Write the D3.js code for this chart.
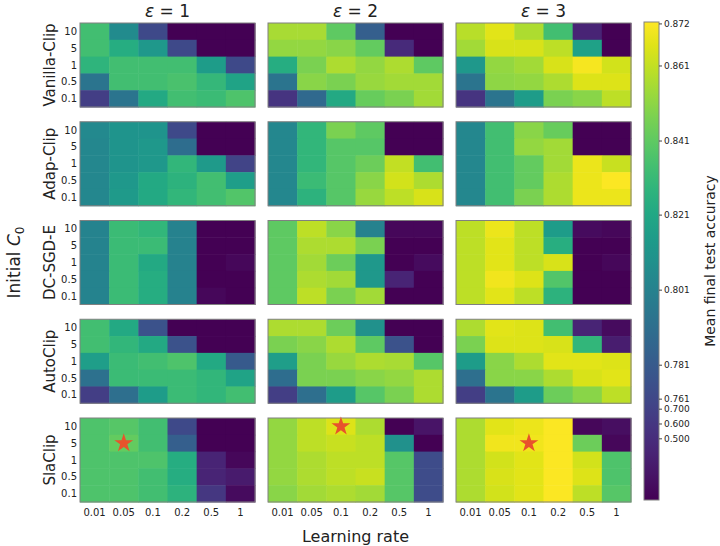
<!DOCTYPE html>
<html>
<head>
<meta charset="utf-8">
<script src="https://cdn.jsdelivr.net/npm/d3@7"></script>
<style>
  body { margin: 0; background: #fff; }
  text { font-family: "DejaVu Sans", sans-serif; fill: #222; }
</style>
</head>
<body>
<div id="chart"></div>
<script>
(function() {
const methods = ["Vanilla-Clip", "Adap-Clip", "DC-SGD-E", "AutoClip", "SlaClip"];
const epsilons = [1, 2, 3];
const learningRates = ["0.01", "0.05", "0.1", "0.2", "0.5", "1"];
const initialC0 = ["10", "5", "1", "0.5", "0.1"];

// mean final test accuracy, rows = C0 (10 .. 0.1), cols = learning rate; one grid per epsilon
const vanillaClip = [
  [[0.834, 0.806, 0.764, 0.1, 0.1, 0.1],
   [0.834, 0.824, 0.813, 0.764, 0.1, 0.1],
   [0.828, 0.834, 0.834, 0.834, 0.815, 0.764],
   [0.794, 0.834, 0.834, 0.836, 0.830, 0.819],
   [0.668, 0.794, 0.822, 0.834, 0.832, 0.837]],
  [[0.856, 0.856, 0.841, 0.783, 0.1, 0.1],
   [0.852, 0.852, 0.850, 0.842, 0.475, 0.1],
   [0.824, 0.847, 0.857, 0.852, 0.857, 0.841],
   [0.794, 0.850, 0.847, 0.853, 0.855, 0.855],
   [0.571, 0.788, 0.822, 0.843, 0.847, 0.855]],
  [[0.859, 0.867, 0.857, 0.834, 0.41, 0.1],
   [0.855, 0.865, 0.865, 0.860, 0.818, 0.1],
   [0.813, 0.852, 0.855, 0.865, 0.871, 0.864],
   [0.794, 0.851, 0.852, 0.857, 0.866, 0.866],
   [0.571, 0.794, 0.815, 0.847, 0.850, 0.860]]
];
const adapClip = [
  [[0.805, 0.811, 0.811, 0.764, 0.1, 0.1],
   [0.804, 0.811, 0.813, 0.790, 0.1, 0.1],
   [0.804, 0.811, 0.813, 0.829, 0.814, 0.729],
   [0.804, 0.813, 0.822, 0.827, 0.834, 0.816],
   [0.804, 0.814, 0.822, 0.829, 0.834, 0.838]],
  [[0.804, 0.829, 0.847, 0.841, 0.1, 0.1],
   [0.804, 0.829, 0.839, 0.839, 0.1, 0.1],
   [0.804, 0.829, 0.839, 0.844, 0.861, 0.834],
   [0.804, 0.832, 0.839, 0.850, 0.864, 0.857],
   [0.804, 0.827, 0.839, 0.853, 0.860, 0.865]],
  [[0.804, 0.834, 0.850, 0.843, 0.1, 0.1],
   [0.804, 0.834, 0.852, 0.855, 0.1, 0.1],
   [0.804, 0.834, 0.842, 0.855, 0.869, 0.862],
   [0.804, 0.834, 0.842, 0.857, 0.869, 0.872],
   [0.804, 0.834, 0.847, 0.857, 0.869, 0.869]]
];
const dcSgdE = [
  [[0.802, 0.832, 0.829, 0.801, 0.1, 0.1],
   [0.802, 0.832, 0.832, 0.801, 0.1, 0.1],
   [0.802, 0.832, 0.822, 0.801, 0.1, 0.16],
   [0.802, 0.832, 0.824, 0.801, 0.1, 0.1],
   [0.802, 0.832, 0.824, 0.801, 0.16, 0.1]],
  [[0.841, 0.860, 0.850, 0.801, 0.16, 0.16],
   [0.841, 0.857, 0.857, 0.847, 0.1, 0.1],
   [0.841, 0.855, 0.844, 0.813, 0.1, 0.19],
   [0.841, 0.857, 0.855, 0.813, 0.41, 0.1],
   [0.841, 0.860, 0.847, 0.855, 0.1, 0.1]],
  [[0.860, 0.869, 0.860, 0.815, 0.19, 0.16],
   [0.860, 0.867, 0.860, 0.825, 0.1, 0.1],
   [0.860, 0.867, 0.860, 0.865, 0.1, 0.16],
   [0.860, 0.870, 0.866, 0.838, 0.1, 0.1],
   [0.860, 0.867, 0.860, 0.827, 0.1, 0.1]]
];
const autoClip = [
  [[0.834, 0.822, 0.772, 0.1, 0.1, 0.1],
   [0.834, 0.829, 0.822, 0.772, 0.1, 0.1],
   [0.816, 0.832, 0.834, 0.837, 0.822, 0.780],
   [0.792, 0.832, 0.832, 0.832, 0.829, 0.819],
   [0.668, 0.791, 0.815, 0.832, 0.829, 0.834]],
  [[0.857, 0.857, 0.844, 0.809, 0.1, 0.1],
   [0.847, 0.850, 0.857, 0.841, 0.772, 0.1],
   [0.816, 0.847, 0.853, 0.857, 0.856, 0.839],
   [0.790, 0.847, 0.847, 0.850, 0.852, 0.857],
   [0.668, 0.791, 0.815, 0.839, 0.847, 0.857]],
  [[0.857, 0.867, 0.866, 0.834, 0.41, 0.19],
   [0.847, 0.866, 0.866, 0.865, 0.829, 0.35],
   [0.815, 0.850, 0.857, 0.867, 0.867, 0.866],
   [0.791, 0.850, 0.850, 0.857, 0.865, 0.867],
   [0.668, 0.794, 0.815, 0.844, 0.850, 0.860]]
];
const slaClip = [
  [[0.837, 0.839, 0.834, 0.764, 0.1, 0.1],
   [0.837, 0.842, 0.834, 0.783, 0.1, 0.1],
   [0.837, 0.837, 0.837, 0.824, 0.41, 0.16],
   [0.837, 0.837, 0.834, 0.824, 0.41, 0.32],
   [0.837, 0.837, 0.834, 0.827, 0.60, 0.19]],
  [[0.852, 0.860, 0.866, 0.857, 0.1, 0.26],
   [0.852, 0.860, 0.862, 0.860, 0.809, 0.1],
   [0.852, 0.857, 0.860, 0.860, 0.839, 0.766],
   [0.852, 0.857, 0.860, 0.862, 0.839, 0.766],
   [0.850, 0.855, 0.857, 0.855, 0.839, 0.766]],
  [[0.857, 0.867, 0.869, 0.872, 0.16, 0.22],
   [0.857, 0.870, 0.870, 0.872, 0.844, 0.16],
   [0.857, 0.864, 0.867, 0.872, 0.864, 0.837],
   [0.857, 0.865, 0.867, 0.872, 0.866, 0.837],
   [0.857, 0.864, 0.867, 0.872, 0.860, 0.839]]
];
const grids = [vanillaClip, adapClip, dcSgdE, autoClip, slaClip];

// best setting per epsilon for SlaClip: [learning rate, C0]
const bestSla = [["0.05", "5"], ["0.1", "10"], ["0.1", "5"]];

// colorbar ticks and the (non-uniform) norm break points
const cbTicks = [0.872, 0.861, 0.841, 0.821, 0.801, 0.781, 0.761, 0.700, 0.600, 0.500];
const normDomain = [0.1, 0.5, 0.6, 0.7, 0.761, 0.781, 0.801, 0.821, 0.841, 0.861, 0.8725];
const normRange = [0, 0.128, 0.159, 0.190, 0.211, 0.282, 0.439, 0.596, 0.751, 0.908, 1];

const W = 720, H = 546;
const svg = d3.select('#chart').append('svg')
  .attr('width', W).attr('height', H);

const norm = d3.scaleLinear().domain(normDomain).range(normRange).clamp(true);
const color = v => d3.interpolateViridis(norm(v));

const panelW = 175, panelH = 84;
const colX = d3.scalePoint().domain(epsilons).range([80, 456]);
const rowY = d3.scalePoint().domain(methods).range([23, 418]);
const x = d3.scaleBand().domain(learningRates).range([0, panelW]);
const y = d3.scaleBand().domain(initialC0).range([0, panelH]);

const star = d3.symbol().type(d3.symbolStar).size(110);

methods.forEach((m, mi) => {
  epsilons.forEach((e, ei) => {
    const g = svg.append('g')
      .attr('transform', `translate(${colX(e)},${rowY(m)})`);
    const cells = [];
    grids[mi][ei].forEach((row, ri) => row.forEach((v, ci) => {
      cells.push({ lr: learningRates[ci], c0: initialC0[ri], v });
    }));
    g.selectAll('rect.cell').data(cells).enter().append('rect')
      .attr('class', 'cell')
      .attr('x', d => x(d.lr))
      .attr('y', d => y(d.c0))
      .attr('width', x.bandwidth() + 0.5)
      .attr('height', y.bandwidth() + 0.5)
      .attr('fill', d => color(d.v));
    g.append('rect')
      .attr('width', panelW).attr('height', panelH)
      .attr('fill', 'none').attr('stroke', '#808080').attr('stroke-width', 1);

    if (ei === 0) {
      g.selectAll('text.ytick').data(initialC0).enter().append('text')
        .attr('class', 'ytick')
        .attr('x', -3)
        .attr('y', d => y(d) + y.bandwidth() / 2)
        .attr('dy', '0.35em')
        .attr('text-anchor', 'end')
        .attr('font-size', 10)
        .text(d => d);
      g.append('text')
        .attr('transform', `translate(-30,${panelH / 2}) rotate(-90)`)
        .attr('text-anchor', 'middle')
        .attr('dy', '0.35em')
        .attr('font-size', 15)
        .text(m);
    }
    if (mi === 0) {
      const t = g.append('text')
        .attr('x', panelW / 2).attr('y', -6)
        .attr('text-anchor', 'middle')
        .attr('font-size', 17);
      t.append('tspan').attr('font-style', 'italic').text('ε');
      t.append('tspan').text(` = ${e}`);
    }
    if (mi === methods.length - 1) {
      g.selectAll('text.xtick').data(learningRates).enter().append('text')
        .attr('class', 'xtick')
        .attr('x', d => x(d) + x.bandwidth() / 2)
        .attr('y', panelH + 14)
        .attr('text-anchor', 'middle')
        .attr('font-size', 10)
        .text(d => d);
      const b = bestSla[ei];
      g.append('path')
        .attr('d', star)
        .attr('transform', `translate(${x(b[0]) + x.bandwidth() / 2},${y(b[1]) + y.bandwidth() / 2})`)
        .attr('fill', '#e8522c');
    }
  });
});

// shared axis labels
const ylab = svg.append('text')
  .attr('transform', `translate(20,${(23 + 502) / 2}) rotate(-90)`)
  .attr('text-anchor', 'middle')
  .attr('font-size', 17);
ylab.append('tspan').text('Initial ');
ylab.append('tspan').attr('font-style', 'italic').text('C');
ylab.append('tspan').attr('font-size', 12).attr('dy', 4).text('0');

svg.append('text')
  .attr('x', (80 + 631) / 2).attr('y', 542)
  .attr('text-anchor', 'middle')
  .attr('font-size', 16)
  .text('Learning rate');

// colorbar
const cbX = 644, cbW = 15, cbTop = 22, cbBot = 500;
const cbY = d3.scaleLinear().domain([0, 1]).range([cbBot, cbTop]);
const defs = svg.append('defs');
const grad = defs.append('linearGradient').attr('id', 'cbgrad')
  .attr('x1', 0).attr('y1', 1).attr('x2', 0).attr('y2', 0);
d3.range(0, 1.0001, 0.05).forEach(s => {
  grad.append('stop').attr('offset', s).attr('stop-color', d3.interpolateViridis(s));
});
svg.append('rect')
  .attr('x', cbX).attr('y', cbTop)
  .attr('width', cbW).attr('height', cbBot - cbTop)
  .attr('fill', 'url(#cbgrad)')
  .attr('stroke', '#808080').attr('stroke-width', 1);

const cbT = svg.selectAll('g.cbtick').data(cbTicks).enter().append('g')
  .attr('class', 'cbtick')
  .attr('transform', d => `translate(${cbX + cbW},${cbY(norm(d))})`);
cbT.append('line').attr('x2', 3).attr('stroke', '#444');
cbT.append('text')
  .attr('x', 5).attr('dy', '0.35em')
  .attr('font-size', 9)
  .text(d => d.toFixed(3));

svg.append('text')
  .attr('transform', `translate(710,${(cbTop + cbBot) / 2}) rotate(-90)`)
  .attr('text-anchor', 'middle')
  .attr('dy', '0.35em')
  .attr('font-size', 14)
  .text('Mean final test accuracy');
})();
</script>
</body>
</html>
